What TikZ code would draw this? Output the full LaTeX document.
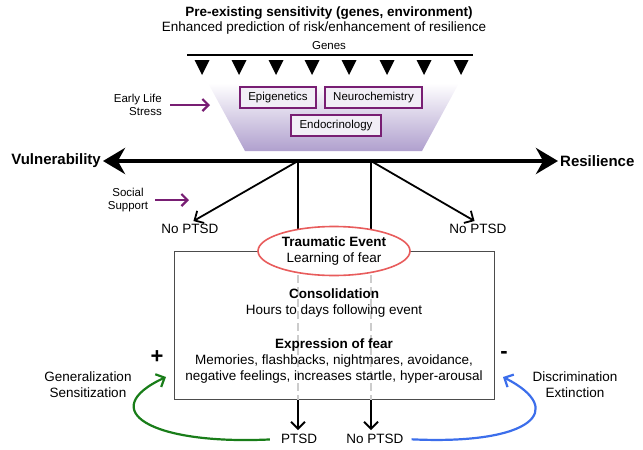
\documentclass[tikz,border=0pt]{standalone}
\usepackage{fontspec}
\setmainfont{Liberation Sans}
\usetikzlibrary{arrows.meta,shapes.geometric}
\definecolor{plum}{RGB}{120,30,115}
\definecolor{lilac}{RGB}{176,160,206}
\definecolor{evred}{RGB}{232,92,92}
\definecolor{fwdgreen}{RGB}{25,125,25}
\definecolor{backblue}{RGB}{60,110,235}
\tikzset{
  txt/.style={font=\fontsize{13.5}{16}\selectfont,align=center,inner sep=1pt},
  smalltxt/.style={font=\fontsize{11.5}{13.5}\selectfont,inner sep=1pt},
  mechbox/.style={draw=plum,line width=1.3pt,fill=white!82!lilac,font=\fontsize{11.5}{13}\selectfont,minimum height=21pt,inner xsep=4pt},
  conn/.style={line width=1.8pt,-{Straight Barb[length=7pt,width=14pt]}},
  purplearrow/.style={plum,line width=2.2pt,-{Straight Barb[length=6pt,width=12pt]}},
  loop/.style={line width=2.2pt,-{Straight Barb[length=7pt,width=14pt]}},
  axislabel/.style={font=\fontsize{15}{18}\selectfont\bfseries,inner sep=2pt}
}
\begin{document}
\begin{tikzpicture}[x=1pt,y=-1pt]
	\useasboundingbox (0,0) rectangle (643,450);
	\node[txt] (title) at (329,13) {\textbf{Pre-existing sensitivity (genes, environment)}};
	\node[txt] (subtitle) at (324,28) {Enhanced prediction of risk/enhancement of resilience};
	\node[smalltxt] (genes) at (329,46) {Genes};
	\draw[line width=2.5pt] (187,55) -- (473,55);
	\foreach \x in {202,239,276,312,349,387,424,461}
		\fill (\x-7.5,60) -- (\x+7.5,60) -- (\x,75) -- cycle;
	\shade[top color=white,bottom color=lilac] (208,83) -- (459,83) -- (422,151) -- (245,151) -- cycle;
	\node[mechbox,minimum width=76pt] (epi) at (278,97.5) {Epigenetics};
	\node[mechbox,minimum width=97pt] (neuro) at (373.5,97.5) {Neurochemistry};
	\node[mechbox,minimum width=90pt] (endo) at (336,125.5) {Endocrinology};
	\node[smalltxt,align=right,anchor=east] (stress) at (163,105) {Early Life\\Stress};
	\coordinate (stresstip) at (210,105);
	\draw[purplearrow] ([xshift=7pt]stress.east) -- (stresstip);
	\node[axislabel,anchor=east] (vul) at (103,161) {Vulnerability};
	\node[axislabel,anchor=west] (res) at (558,161) {Resilience};
	\draw[line width=4pt,{Stealth[length=22pt,width=26pt]}-{Stealth[length=22pt,width=26pt]}] (vul) -- (res);
	\coordinate (split1) at (298,161);
	\coordinate (split2) at (371,161);
	\node[smalltxt,align=center] (social) at (128,200) {Social\\Support};
	\coordinate (socialtip) at (189,200);
	\draw[purplearrow] ([xshift=6pt]social.east) -- (socialtip);
	\node[txt] (nopt1) at (190,229) {No PTSD};
	\node[txt] (nopt2) at (478,229) {No PTSD};
	\draw[conn,shorten >=4pt] (split1) -- (nopt1.north);
	\draw[conn,shorten >=4pt] (split2) -- (nopt2.north);
	\node[draw=black!70,line width=0.8pt,minimum width=320pt,minimum height=148pt] (box) at (334.5,325.5) {};
	\draw[black!20,line width=2pt,dash pattern=on 8pt off 4pt] (split1 |- box.north) -- (split1 |- box.south);
	\draw[black!20,line width=2pt,dash pattern=on 8pt off 4pt] (split2 |- box.north) -- (split2 |- box.south);
	\draw[line width=1.8pt] (split1) -- (split1 |- box.north);
	\draw[line width=1.8pt] (split2) -- (split2 |- box.north);
	\node[txt] (consol) at (334,303) {\textbf{Consolidation}\\Hours to days following event};
	\node[txt] (express) at (334,361) {\textbf{Expression of fear}\\Memories, flashbacks, nightmares, avoidance,\\negative feelings, increases startle, hyper-arousal};
	\node[txt,ellipse,draw=evred,line width=1.6pt,fill=white,minimum width=152pt,minimum height=49pt] (event) at (334,251) {\textbf{Traumatic Event}\\Learning of fear};
	\node[txt] (ptsd) at (299,439) {PTSD};
	\node[txt] (nopt3) at (375,439) {No PTSD};
	\draw[conn,shorten >=3pt] (split1 |- box.south) -- (split1 |- ptsd.north);
	\draw[conn,shorten >=3pt] (split2 |- box.south) -- (split2 |- nopt3.north);
	\node[font=\fontsize{22}{24}\selectfont\bfseries] (plus) at (157,357) {+};
	\node[font=\fontsize{22}{24}\selectfont\bfseries] (minus) at (504,355) {-};
	\node[txt] (gensens) at (88,385) {Generalization\\Sensitization};
	\node[txt] (discext) at (575,385) {Discrimination\\Extinction};
	\coordinate (gentip) at (166,377);
	\coordinate (disctip) at (503,377);
	\draw[loop,fwdgreen,shorten <=10pt] (ptsd.west) .. controls (150,445) and (95,410) .. (gentip);
	\draw[loop,backblue,shorten <=7pt] (nopt3.east) .. controls (532,445) and (568,410) .. (disctip);
\end{tikzpicture}
\end{document}
